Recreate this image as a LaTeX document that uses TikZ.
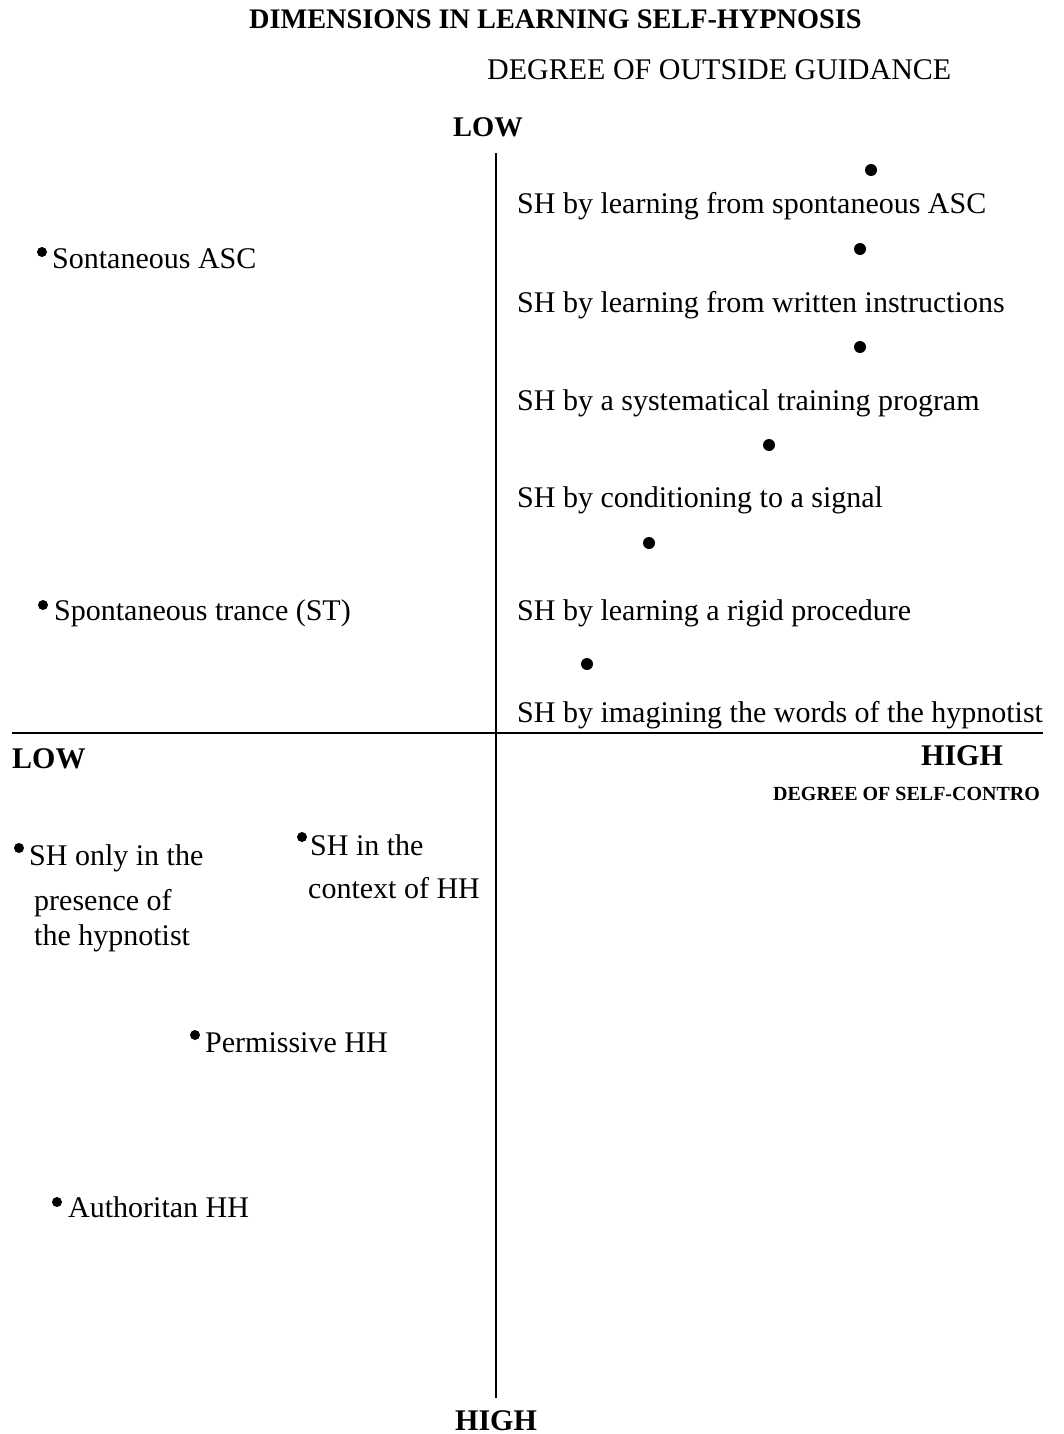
\documentclass[tikz,border=0pt]{standalone}
\usepackage{fontspec}
\setmainfont{Liberation Serif}

\begin{document}
\begin{tikzpicture}[x=1pt, y=-1pt,
		lbl/.style={anchor=base west, inner sep=0pt, font=\fontsize{30}{36}\selectfont},
		hd/.style={anchor=base west, inner sep=0pt, font=\fontsize{30}{36}\selectfont\bfseries},
		dot/.style={circle, fill=black, inner sep=0pt, minimum size=12pt},
		sdot/.style={circle, fill=black, inner sep=0pt, minimum size=10pt}]

	\useasboundingbox (0, 0) rectangle (1064, 1434);

		% axes
		\coordinate (vtop) at (496, 153);
		\coordinate (vbot) at (496, 1398);
		\coordinate (hleft) at (12, 733);
		\coordinate (hright) at (1043, 733);
		\draw[line width=1.6pt] (vtop) to (vbot);
		\draw[line width=1.6pt] (hleft) to (hright);

		\node[hd, font=\fontsize{28.3}{33}\selectfont\bfseries] (title) at(249, 29){DIMENSIONS IN LEARNING SELF-HYPNOSIS};
		\node[lbl] (guide) at(487, 80){DEGREE OF OUTSIDE GUIDANCE};
		\node[hd, font=\fontsize{28.5}{33}\selectfont\bfseries] (gLow) at(453, 137){LOW};
		\node[hd] (gHigh) at(455, 1430){HIGH};
		\node[hd] (cLow) at(12, 768){LOW};
		\node[hd] (cHigh) at(921, 765){HIGH};
		\node[hd, font=\fontsize{20}{24}\selectfont\bfseries] (ctrl) at(773, 800){DEGREE OF SELF-CONTRO};

		% right side
		\node[dot] (d1) at(871, 170){};
		\node[lbl] (sh1) at(517, 213){SH by learning from spontaneous ASC};
		\node[dot] (d2) at(860, 249){};
		\node[lbl] (sh2) at(517, 312){SH by learning from written instructions};
		\node[dot] (d3) at(860, 347){};
		\node[lbl] (sh3) at(517, 410){SH by a systematical training program};
		\node[dot] (d4) at(769, 445){};
		\node[lbl] (sh4) at(517, 507){SH by conditioning to a signal};
		\node[dot] (d5) at(649, 543){};
		\node[lbl] (sh5) at(517, 620){SH by learning a rigid procedure};
		\node[dot] (d6) at(587, 664){};
		\node[lbl] (sh6) at(517, 722){SH by imagining the words of the hypnotist};

		% left side
		\node[sdot] (sa) at(42, 252){};
		\node[lbl] (spASC) at(52, 268){Sontaneous ASC};
		\node[sdot] (sb) at(43, 605){};
		\node[lbl] (spST) at(54, 620){Spontaneous trance (ST)};
		\node[sdot] (sc) at(19, 848){};
		\node[lbl] (only1) at(29, 865){SH only in the};
		\node[lbl] (only2) at(34, 910){presence of};
		\node[lbl] (only3) at(34, 945){the hypnotist};
		\node[sdot] (sd) at(302, 837){};
		\node[lbl] (ctx1) at(310, 855){SH in the};
		\node[lbl] (ctx2) at(308, 898){context of HH};
		\node[sdot] (se) at(195, 1035){};
		\node[lbl] (perm) at(205, 1052){Permissive HH};
		\node[sdot] (sf) at(57, 1202){};
		\node[lbl] (auth) at(68, 1217){Authoritan HH};

	\end{tikzpicture}
\end{document}
